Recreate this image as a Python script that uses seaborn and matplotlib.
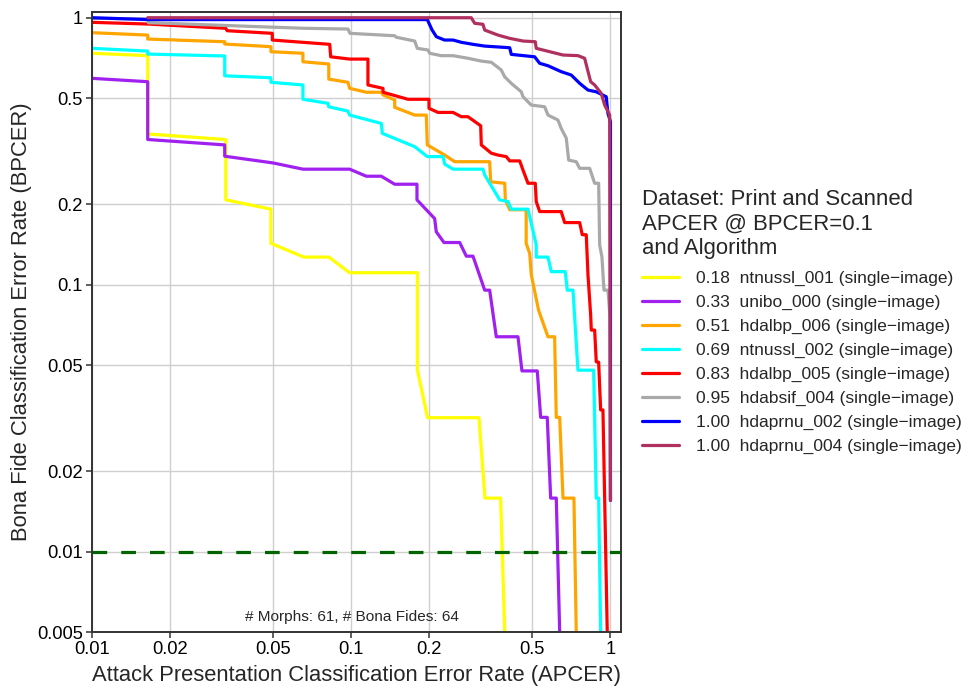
import numpy as np
import pandas as pd
import matplotlib
matplotlib.use("Agg")
import matplotlib.pyplot as plt
import seaborn as sns

# DET curves (APCER on x, BPCER on y)
ntnussl_001_apcer = [0.01, 0.0164, 0.0164, 0.0328, 0.0328, 0.049, 0.049, 0.0656, 0.082, 0.0984,
                     0.180, 0.180, 0.197, 0.311, 0.328, 0.377, 0.391]
ntnussl_001_bpcer = [0.736, 0.721, 0.367, 0.350, 0.208, 0.192, 0.143, 0.127, 0.127, 0.111,
                     0.111, 0.048, 0.0318, 0.0318, 0.0159, 0.0159, 0.005]

unibo_000_apcer = [0.01, 0.0164, 0.0164, 0.0325, 0.0325, 0.0499, 0.0651, 0.0986, 0.1143, 0.1306,
                   0.1471, 0.1793, 0.1793, 0.2098, 0.2128, 0.2279, 0.262, 0.2779, 0.2949, 0.3272,
                   0.342, 0.3627, 0.4398, 0.4556, 0.522, 0.538, 0.5704, 0.5879, 0.618, 0.637]
unibo_000_bpcer = [0.593, 0.576, 0.350, 0.334, 0.303, 0.286, 0.271, 0.271, 0.255, 0.255,
                   0.238, 0.238, 0.208, 0.177, 0.158, 0.144, 0.144, 0.128, 0.128, 0.0955,
                   0.0955, 0.0639, 0.0639, 0.0476, 0.0476, 0.0319, 0.0319, 0.0159, 0.0159, 0.005]

hdalbp_006_apcer = [0.01, 0.0164, 0.0164, 0.0325, 0.0325, 0.049, 0.049, 0.0651, 0.0651, 0.0819,
                    0.0819, 0.0971, 0.0986, 0.1143, 0.1306, 0.1326, 0.1471, 0.1471, 0.1757, 0.1948,
                    0.1965, 0.2294, 0.2506, 0.342, 0.345, 0.391, 0.393, 0.409, 0.473, 0.473,
                    0.488, 0.495, 0.528, 0.574, 0.609, 0.618, 0.637, 0.656, 0.723, 0.738]
hdalbp_006_bpcer = [0.879, 0.861, 0.832, 0.813, 0.797, 0.779, 0.746, 0.736, 0.684, 0.671,
                    0.589, 0.573, 0.544, 0.526, 0.526, 0.514, 0.492, 0.462, 0.432, 0.432,
                    0.334, 0.306, 0.289, 0.289, 0.243, 0.240, 0.208, 0.191, 0.191, 0.143,
                    0.131, 0.109, 0.0804, 0.0639, 0.0639, 0.0319, 0.0319, 0.0159, 0.0159, 0.005]

ntnussl_002_apcer = [0.01, 0.0164, 0.0164, 0.0325, 0.0325, 0.049, 0.049, 0.0651, 0.0651, 0.0814,
                     0.0819, 0.0971, 0.0986, 0.1306, 0.1318, 0.1757, 0.1965, 0.2259, 0.2294, 0.247,
                     0.3222, 0.3272, 0.3738, 0.4024, 0.4144, 0.4806, 0.5173, 0.5173, 0.5741, 0.591,
                     0.6694, 0.6815, 0.7168, 0.7493, 0.8614, 0.8815, 0.9005, 0.9166]
ntnussl_002_bpcer = [0.768, 0.750, 0.731, 0.719, 0.606, 0.596, 0.573, 0.560, 0.495, 0.478,
                     0.464, 0.447, 0.432, 0.402, 0.369, 0.329, 0.302, 0.302, 0.283, 0.271,
                     0.271, 0.258, 0.208, 0.205, 0.192, 0.192, 0.141, 0.127, 0.127, 0.112,
                     0.112, 0.0955, 0.0955, 0.0479, 0.0479, 0.0159, 0.0159, 0.005]

hdalbp_005_apcer = [0.01, 0.0164, 0.0328, 0.0332, 0.0496, 0.0496, 0.0826, 0.0833, 0.0986, 0.116,
                    0.116, 0.1326, 0.1326, 0.1655, 0.1995, 0.1995, 0.2161, 0.247, 0.2658, 0.282,
                    0.3158, 0.3175, 0.3469, 0.3682, 0.3963, 0.4086, 0.4466, 0.4598, 0.4806, 0.5128,
                    0.5173, 0.5333, 0.6458, 0.6657, 0.7607, 0.7784, 0.8066, 0.819, 0.8388, 0.8435,
                    0.869, 0.8815, 0.9005, 0.9166, 0.9355, 0.972]
hdalbp_005_bpcer = [0.961, 0.947, 0.913, 0.894, 0.874, 0.825, 0.795, 0.714, 0.700, 0.700,
                    0.560, 0.544, 0.526, 0.495, 0.495, 0.458, 0.442, 0.442, 0.426, 0.426,
                    0.394, 0.334, 0.311, 0.306, 0.302, 0.291, 0.291, 0.269, 0.240, 0.240,
                    0.205, 0.188, 0.188, 0.171, 0.171, 0.154, 0.154, 0.109, 0.077, 0.0677,
                    0.0677, 0.0515, 0.0513, 0.034, 0.034, 0.005]

hdabsif_004_apcer = [0.01, 0.0164, 0.0165, 0.0653, 0.0971, 0.0989, 0.1471, 0.1492, 0.1757, 0.1798,
                     0.1978, 0.2007, 0.2225, 0.247, 0.282, 0.3175, 0.3469, 0.3792, 0.3907, 0.4144,
                     0.4529, 0.4598, 0.4948, 0.5574, 0.5741, 0.6272, 0.6458, 0.6753, 0.6899, 0.738,
                     0.7607, 0.8314, 0.869, 0.9005, 0.9086, 0.9273, 0.944, 0.978, 0.995, 1.0]
hdabsif_004_bpcer = [0.995, 0.99, 0.958, 0.913, 0.907, 0.874, 0.856, 0.845, 0.818, 0.768,
                     0.757, 0.736, 0.721, 0.721, 0.705, 0.688, 0.681, 0.637, 0.601, 0.568,
                     0.528, 0.506, 0.471, 0.464, 0.432, 0.414, 0.385, 0.354, 0.293, 0.289,
                     0.273, 0.273, 0.240, 0.240, 0.141, 0.127, 0.0955, 0.0955, 0.077, 0.0156]

hdaprnu_002_apcer = [0.01, 0.0164, 0.1965, 0.205, 0.213, 0.229, 0.247, 0.2658, 0.2949, 0.3272,
                     0.4086, 0.4144, 0.510, 0.5333, 0.5741, 0.6458, 0.7061, 0.7607, 0.819, 0.8815,
                     0.963, 0.978, 1.0, 1.0]
hdaprnu_002_bpcer = [1.0, 0.984, 0.984, 0.90, 0.849, 0.825, 0.825, 0.809, 0.795, 0.783,
                     0.772, 0.729, 0.714, 0.675, 0.661, 0.628, 0.610, 0.568, 0.536, 0.528,
                     0.506, 0.4385, 0.408, 0.0156]

hdaprnu_004_apcer = [0.0164, 0.2904, 0.2994, 0.3222, 0.3272, 0.3682, 0.4086, 0.4598, 0.5128, 0.5173,
                     0.583, 0.6561, 0.7493, 0.795, 0.8135, 0.8388, 0.869, 0.9215, 0.950, 0.993, 1.0]
hdaprnu_004_bpcer = [1.0, 1.0, 0.953, 0.945, 0.899, 0.861, 0.837, 0.818, 0.813, 0.768,
                     0.746, 0.725, 0.721, 0.705, 0.646, 0.576, 0.560, 0.521, 0.471, 0.432, 0.0156]

algorithms = ["ntnussl_001", "unibo_000", "hdalbp_006", "ntnussl_002",
              "hdalbp_005", "hdabsif_004", "hdaprnu_002", "hdaprnu_004"]
apcer_at_bpcer = [0.18, 0.33, 0.51, 0.69, 0.83, 0.95, 1.00, 1.00]
colors = ["#FFFF00", "#A020F0", "#FFA500", "#00FFFF",
          "#FF0000", "#A9A9A9", "#0000FF", "#B03060"]

curves = {
    "ntnussl_001": (ntnussl_001_apcer, ntnussl_001_bpcer),
    "unibo_000": (unibo_000_apcer, unibo_000_bpcer),
    "hdalbp_006": (hdalbp_006_apcer, hdalbp_006_bpcer),
    "ntnussl_002": (ntnussl_002_apcer, ntnussl_002_bpcer),
    "hdalbp_005": (hdalbp_005_apcer, hdalbp_005_bpcer),
    "hdabsif_004": (hdabsif_004_apcer, hdabsif_004_bpcer),
    "hdaprnu_002": (hdaprnu_002_apcer, hdaprnu_002_bpcer),
    "hdaprnu_004": (hdaprnu_004_apcer, hdaprnu_004_bpcer),
}

ticks = [0.005, 0.01, 0.02, 0.05, 0.1, 0.2, 0.5, 1]
tick_labels = ["0.005", "0.01", "0.02", "0.05", "0.1", "0.2", "0.5", "1"]


def main():
    rows = []
    for name in algorithms:
        xs, ys = curves[name]
        for i, (x, y) in enumerate(zip(xs, ys)):
            rows.append({"algorithm": name, "step": i, "apcer": x, "bpcer": y})
    df = pd.DataFrame(rows)

    sns.set_theme(style="whitegrid")
    plt.rcParams["font.family"] = ["Liberation Sans", "DejaVu Sans"]

    fig = plt.figure(figsize=(9.77, 6.94), dpi=100)
    ax = fig.add_axes([0.0942, 0.0889, 0.5414, 0.8942])

    sns.lineplot(data=df, x="apcer", y="bpcer", hue="algorithm", hue_order=algorithms,
                 palette=colors, estimator=None, sort=False, linewidth=2.3,
                 legend=False, ax=ax)

    ax.axhline(0.01, color="#006400", linewidth=2.3, dashes=(4.6, 4.4), zorder=5)

    ax.set_xscale("log")
    ax.set_yscale("log")
    ax.set_xlim(0.01, 1.098)
    ax.set_ylim(0.005, 1.053)
    ax.set_xticks(ticks[1:])
    ax.set_xticklabels(tick_labels[1:])
    ax.set_yticks(ticks)
    ax.set_yticklabels(tick_labels)
    ax.minorticks_off()

    ax.grid(True, which="major", color="#cfcfcf", linewidth=1.0)
    for sp in ax.spines.values():
        sp.set_color("#333333")
        sp.set_linewidth(1.4)
    ax.tick_params(bottom=True, left=True, direction="out", length=4, width=1.1,
                   color="#333333", labelsize=13.2, labelcolor="black", pad=2.5)

    ax.set_xlabel("Attack Presentation Classification Error Rate (APCER)",
                  fontsize=15.8, labelpad=5)
    ax.set_ylabel("Bona Fide Classification Error Rate (BPCER)",
                  fontsize=15.8, labelpad=4)

    ax.text(0.4924, 0.024, "# Morphs: 61, # Bona Fides: 64", transform=ax.transAxes,
            ha="center", va="center", fontsize=11.1)

    legend_labels = [f"{v:.2f}  {n} (single\u2212image)"
                     for v, n in zip(apcer_at_bpcer, algorithms)]
    leg = fig.legend(ax.lines[:len(algorithms)], legend_labels,
                     title="Dataset: Print and Scanned\nAPCER @ BPCER=0.1\nand Algorithm",
                     loc="upper left", bbox_to_anchor=(0.648, 0.74),
                     frameon=False, fontsize=12.5, title_fontsize=15.9,
                     handlelength=2.15, handletextpad=0.95, labelspacing=0.5,
                     borderpad=0, alignment="left")
    leg._legend_box.sep = 9
    for h in leg.get_lines():
        h.set_linewidth(2.3)

    fig.savefig("out.png", dpi=100)
    plt.close(fig)


if __name__ == "__main__":
    main()
